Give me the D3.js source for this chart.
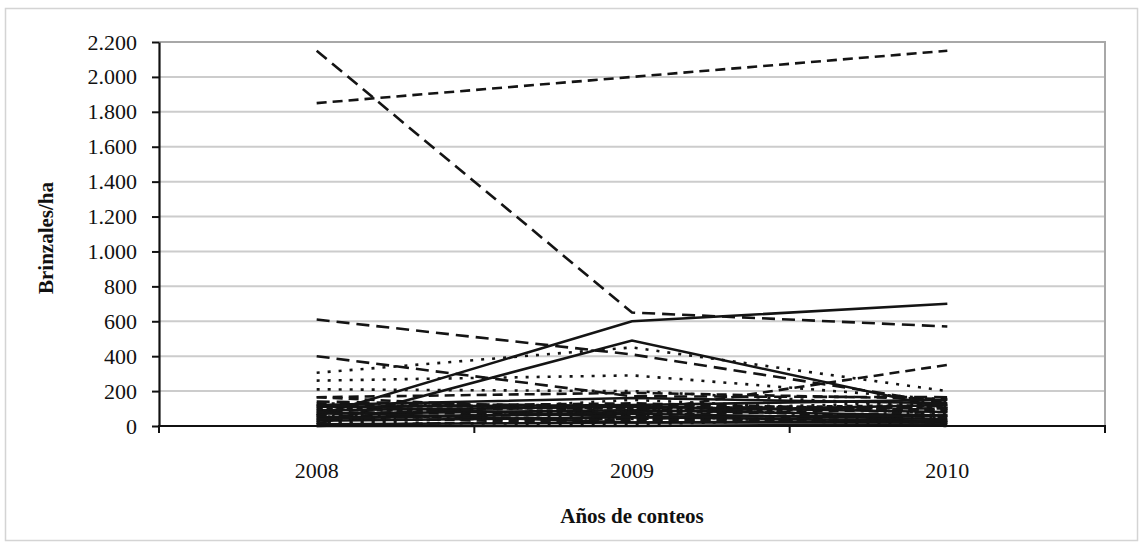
<!DOCTYPE html>
<html>
<head>
<meta charset="utf-8">
<script src="https://cdn.jsdelivr.net/npm/d3@7"></script>
<style>
  html, body { margin: 0; padding: 0; background: #ffffff; }
  svg { display: block; }
  text { font-family: "Liberation Serif", "Times New Roman", serif; fill: #111; }
</style>
</head>
<body>
<svg id="chart" width="1141" height="545"></svg>
<script>
// Counting years (categories)
const years = ["2008", "2009", "2010"];

// Y-axis tick values (brinzales per hectare)
const yTicks = [0, 200, 400, 600, 800, 1000, 1200, 1400, 1600, 1800, 2000, 2200];

// Seedling density per plot, one row per plot: [2008, 2009, 2010]
const plotValues = [
  [2150, 650, 570],
  [1850, 2000, 2150],
  [60, 600, 700],
  [10, 490, 100],
  [610, 410, 130],
  [400, 170, 165],
  [305, 450, 200],
  [260, 290, 150],
  [210, 200, 110],
  [165, 80, 350],
  [165, 190, 155],
  [120, 160, 130],
  [110, 120, 150],
  [100, 100, 120],
  [90, 110, 80],
  [80, 60, 100],
  [70, 90, 60],
  [60, 40, 80],
  [50, 70, 40],
  [40, 30, 60],
  [30, 50, 30],
  [20, 10, 50],
  [10, 20, 20],
  [0, 0, 10],
  [110, 130, 90],
  [50, 150, 70],
  [130, 100, 50],
  [80, 20, 30],
  [0, 40, 20],
  [40, 80, 120],
  [20, 60, 0],
  [120, 50, 60],
  [95, 70, 110],
  [65, 120, 90],
  [140, 110, 100],
  [30, 90, 140]
];

// Line pattern used for each plot (same order as plotValues)
const plotPatterns = [
  "longdash", "dash", "solid", "solid", "longdash", "longdash", "dot", "dot", "dot",
  "dash", "dash", "solid", "solid", "sysdash", "solid", "dash", "solid", "dashdot",
  "solid", "dash", "solid", "dot", "solid", "solid", "dash", "dot", "dashdot",
  "solid", "dash", "solid", "dot", "solid", "sysdash", "dash", "longdash", "dot"
];

const dashArrays = {
  solid: null,
  longdash: "13,7",
  dash: "10,6",
  sysdash: "6,4",
  dot: "3,8",
  dashdot: "10,5,3,5"
};

const svg = d3.select("#chart");
const W = 1141, H = 545;
const plot = { left: 159, right: 1105, top: 42, bottom: 426 };

// Outer chart frame
svg.append("rect")
  .attr("x", 5.5).attr("y", 8.5)
  .attr("width", 1132).attr("height", 532)
  .attr("fill", "#ffffff")
  .attr("stroke", "#d4d4d4")
  .attr("stroke-width", 1.5);

const x = d3.scaleBand().domain(years).range([plot.left, plot.right]).padding(0);
const y = d3.scaleLinear().domain([0, 2200]).range([plot.bottom, plot.top]);

const fmtLocale = d3.formatLocale({ decimal: ",", thousands: ".", grouping: [3], currency: ["", ""] });
const fmt = fmtLocale.format(",d");

// Horizontal gridlines
svg.append("g")
  .selectAll("line")
  .data(yTicks.filter(d => d > 0))
  .join("line")
  .attr("x1", plot.left).attr("x2", plot.right)
  .attr("y1", d => y(d)).attr("y2", d => y(d))
  .attr("stroke", d => d === 2200 ? "#a8a8a8" : "#cccccc")
  .attr("stroke-width", 2);

// Right border of plot area
svg.append("line")
  .attr("x1", plot.right).attr("x2", plot.right)
  .attr("y1", plot.top - 1).attr("y2", plot.bottom)
  .attr("stroke", "#a8a8a8")
  .attr("stroke-width", 2);

// Data lines
const line = d3.line()
  .x((d, i) => x(years[i]) + x.bandwidth() / 2)
  .y(d => y(d));

svg.append("g")
  .selectAll("path")
  .data(plotValues)
  .join("path")
  .attr("d", d => line(d))
  .attr("fill", "none")
  .attr("stroke", "#141414")
  .attr("stroke-width", 2.6)
  .attr("stroke-dasharray", (d, i) => dashArrays[plotPatterns[i]]);

// Y axis
const yAxis = d3.axisLeft(y)
  .tickValues(yTicks)
  .tickFormat(fmt)
  .tickSize(7)
  .tickSizeOuter(0)
  .tickPadding(15);

const gy = svg.append("g")
  .attr("transform", `translate(${plot.left},0)`)
  .call(yAxis);
gy.select(".domain").attr("stroke", "#111").attr("stroke-width", 2.2);
gy.selectAll(".tick line").attr("stroke", "#111").attr("stroke-width", 2);
gy.selectAll(".tick text")
  .style("font-family", "'Liberation Serif', 'Times New Roman', serif")
  .style("font-size", "22px")
  .attr("fill", "#111");

// X axis: labels at band centers, ticks on band boundaries
const xAxis = d3.axisBottom(x).tickSize(0).tickSizeOuter(0).tickPadding(36);
const gx = svg.append("g")
  .attr("transform", `translate(0,${plot.bottom})`)
  .call(xAxis);
gx.select(".domain").remove();
gx.selectAll(".tick text")
  .style("font-family", "'Liberation Serif', 'Times New Roman', serif")
  .style("font-size", "22px")
  .attr("fill", "#111");

const boundaries = years.map(c => x(c)).concat([x(years[years.length - 1]) + x.bandwidth()]);
svg.append("g")
  .selectAll("line")
  .data(boundaries)
  .join("line")
  .attr("x1", d => d).attr("x2", d => d)
  .attr("y1", plot.bottom).attr("y2", plot.bottom + 7)
  .attr("stroke", "#111").attr("stroke-width", 2);

svg.append("line")
  .attr("x1", plot.left - 1).attr("x2", plot.right + 1)
  .attr("y1", plot.bottom).attr("y2", plot.bottom)
  .attr("stroke", "#111").attr("stroke-width", 2.2);

// Axis titles
svg.append("text")
  .attr("x", (plot.left + plot.right) / 2)
  .attr("y", 523)
  .attr("text-anchor", "middle")
  .style("font-size", "21px")
  .style("font-weight", "bold")
  .text("Años de conteos");

svg.append("text")
  .attr("transform", "translate(53,238) rotate(-90)")
  .attr("text-anchor", "middle")
  .style("font-size", "21px")
  .style("font-weight", "bold")
  .text("Brinzales/ha");
</script>
</body>
</html>
